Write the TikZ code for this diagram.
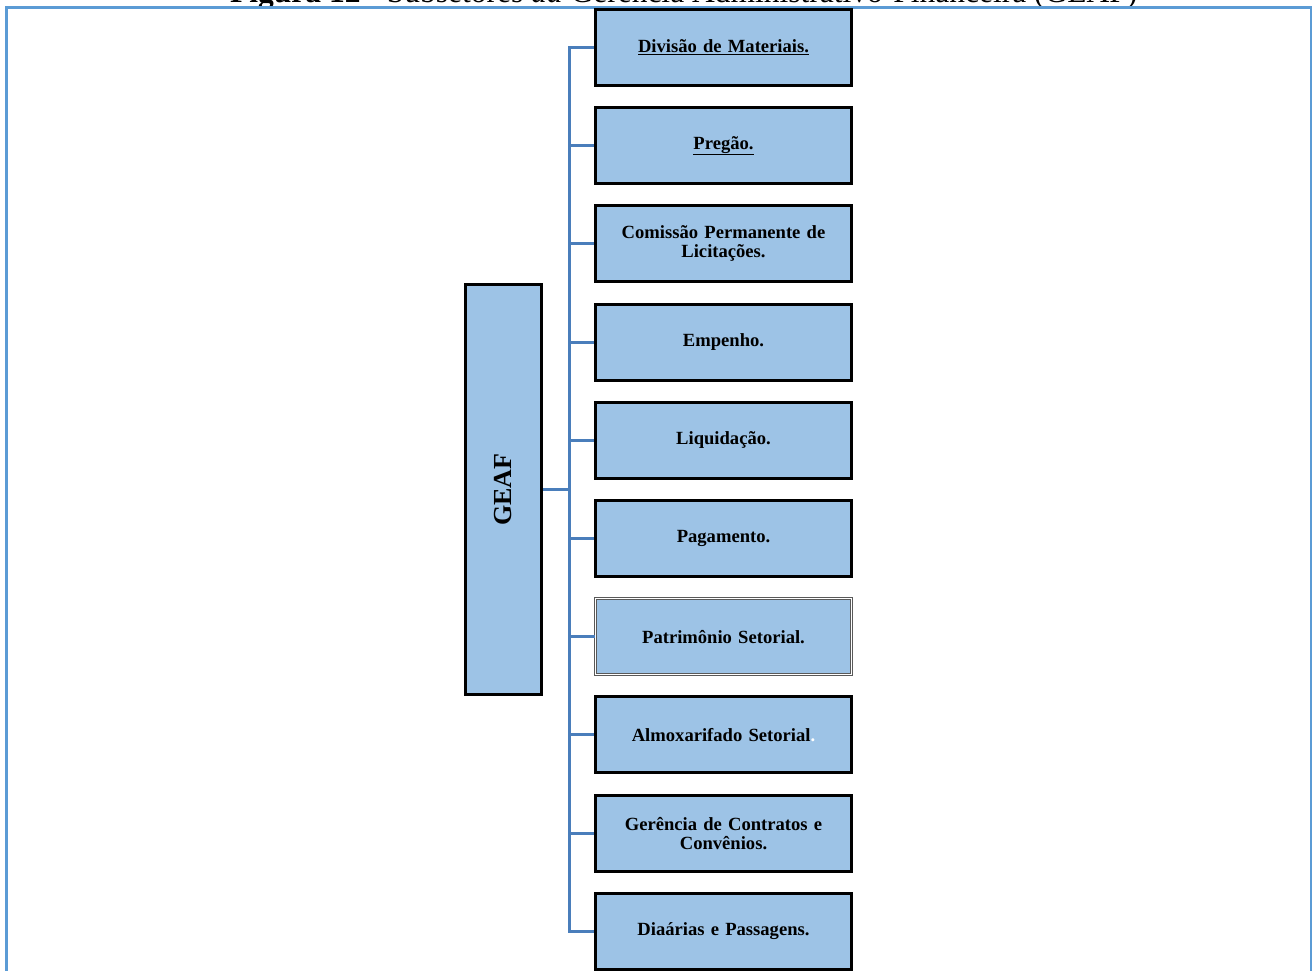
\documentclass[tikz,border=0pt]{standalone}
\usepackage{fontspec}
\setmainfont{Liberation Serif}
\definecolor{boxfill}{HTML}{9DC3E6}
\definecolor{linkblue}{HTML}{4A7EBB}
\definecolor{frameblue}{HTML}{5B9BD5}
\begin{document}
\begin{tikzpicture}[x=1pt,y=-1pt,
  unit/.style={draw=black, line width=3pt, fill=boxfill, minimum width=256pt,
    minimum height=76pt, inner sep=0pt, align=center, text width=240pt,
    font=\fontsize{18.6}{19}\selectfont\bfseries},
  unitdouble/.style={unit, draw=black!65, line width=0.9pt, double=white,
    double distance=1pt},
  head/.style={draw=black, line width=3pt, fill=boxfill, minimum width=76pt,
    minimum height=410pt, inner sep=0pt},
  link/.style={draw=linkblue, line width=3pt, line join=miter}]
\useasboundingbox (0,0) rectangle (1313,970);

% caption above the figure (partly outside the page)
\node[anchor=base west, inner sep=0pt, font=\fontsize{31.5}{32}\selectfont]
  (caption) at (230,2) {\textbf{Figura 12 -} Subsetores \textit{da} Gerência Administrativo-Financeira (GEAF)};

% surrounding frame
\draw[frameblue, line width=2.2pt] (6.5,990) -- (6.5,7.5) -- (1311,7.5) -- (1311,990);

% main unit
\node[head] (geaf) at (503.5,489.5) {};
\node[rotate=90, font=\fontsize{26}{26}\selectfont\bfseries] (geaftxt) at (geaf.center) {GEAF};

% subunits
\node[unit] (b1)  at (723.5,47.5)  {\underline{Divisão de Materiais.}};
\node[unit] (b2)  at (723.5,145.7) {\underline{Pregão.}};
\node[unit] (b3)  at (723.5,243.9) {Comissão Permanente de\\Licitações.};
\node[unit] (b4)  at (723.5,342.1) {Empenho.};
\node[unit] (b5)  at (723.5,440.3) {Liquidação.};
\node[unit] (b6)  at (723.5,538.5) {Pagamento.};
\node[unitdouble] (b7)  at (723.5,636.7) {Patrimônio Setorial.};
\node[unit] (b8)  at (723.5,734.9) {Almoxarifado Setorial\textcolor{white}{.}};
\node[unit] (b9)  at (723.5,833.1) {Gerência de Contratos e\\Convênios.};
\node[unit] (b10) at (723.5,931.3) {Diaárias e Passagens.};

% connectors
\coordinate (bus) at (569,0);
\draw[link] (b1.west) -- (b1.west -| bus) -- (b10.west -| bus) -- (b10.west);
\draw[link] (geaf.east) -- (geaf.east -| bus);
\foreach \n in {b2,b3,b4,b5,b6,b7,b8,b9}
  \draw[link] (\n.west) -- (\n.west -| bus);
\end{tikzpicture}
\end{document}
